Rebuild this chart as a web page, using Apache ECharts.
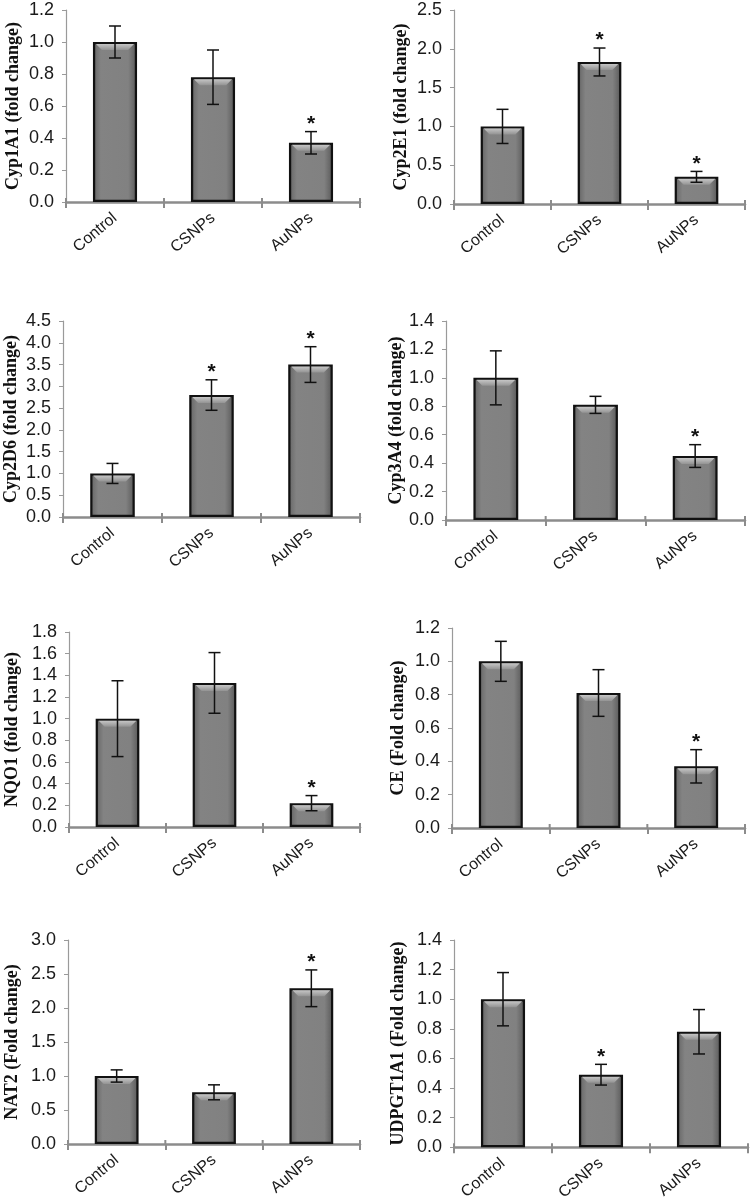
<!DOCTYPE html>
<html>
<head>
<meta charset="utf-8">
<script src="https://cdn.jsdelivr.net/npm/echarts@6/dist/echarts.min.js"></script>
<style>html,body{margin:0;padding:0;background:#fff}#c{width:751px;height:1203px}</style>
</head>
<body>
<div id="c"></div>
<script>
const categories = ['Control', 'CSNPs', 'AuNPs'];
const panelTitles = ['Cyp1A1 (fold change)', 'Cyp2E1 (fold change)', 'Cyp2D6 (fold change)', 'Cyp3A4 (fold change)',
  'NQO1 (fold change)', 'CE (Fold change)', 'NAT2 (Fold change)', 'UDPGT1A1 (Fold change)'];
const cyp1a1 = [1.0, 0.78, 0.37];   const cyp1a1Err = [0.10, 0.17, 0.07]; const cyp1a1Sig = [0, 0, 1];
const cyp2e1 = [1.0, 1.83, 0.35];   const cyp2e1Err = [0.22, 0.18, 0.07]; const cyp2e1Sig = [0, 1, 1];
const cyp2d6 = [1.0, 2.80, 3.50];   const cyp2d6Err = [0.23, 0.35, 0.41]; const cyp2d6Sig = [0, 1, 1];
const cyp3a4 = [1.0, 0.81, 0.45];   const cyp3a4Err = [0.19, 0.06, 0.08]; const cyp3a4Sig = [0, 0, 1];
const nqo1 = [1.0, 1.33, 0.22];     const nqo1Err = [0.35, 0.28, 0.07];   const nqo1Sig = [0, 0, 1];
const ce = [1.0, 0.81, 0.37];       const ceErr = [0.12, 0.14, 0.10];     const ceSig = [0, 0, 1];
const nat2 = [1.0, 0.76, 2.29];     const nat2Err = [0.09, 0.11, 0.27];   const nat2Sig = [0, 0, 1];
const udpgt1a1 = [1.0, 0.49, 0.78]; const udpgt1a1Err = [0.18, 0.07, 0.15]; const udpgt1a1Sig = [0, 1, 0];
const yMaxes = [1.2, 2.5, 4.5, 1.4, 1.8, 1.2, 3.0, 1.4];
const yIntervals = [0.2, 0.5, 0.5, 0.2, 0.2, 0.2, 0.5, 0.2];

const values = [cyp1a1, cyp2e1, cyp2d6, cyp3a4, nqo1, ce, nat2, udpgt1a1];
const errors = [cyp1a1Err, cyp2e1Err, cyp2d6Err, cyp3a4Err, nqo1Err, ceErr, nat2Err, udpgt1a1Err];
const sigs = [cyp1a1Sig, cyp2e1Sig, cyp2d6Sig, cyp3a4Sig, nqo1Sig, ceSig, nat2Sig, udpgt1a1Sig];

// layout (pixels)
const grids = [
  {left: 66, top: 10, width: 294, height: 192},
  {left: 454, top: 10, width: 291, height: 194},
  {left: 63, top: 321, width: 297, height: 196},
  {left: 446, top: 321, width: 299, height: 199},
  {left: 69, top: 632, width: 291, height: 195},
  {left: 452, top: 628, width: 293, height: 200},
  {left: 68, top: 940, width: 292, height: 204},
  {left: 454, top: 940, width: 294, height: 209}
];
const nameGaps = [44, 44, 43, 39, 48, 45, 47, 47];

const chart = echarts.init(document.getElementById('c'), null, {renderer: 'canvas'});
const option = {
  animation: false,
  backgroundColor: '#ffffff',
  grid: [], xAxis: [], yAxis: [], series: []
};

const barFill = new echarts.graphic.LinearGradient(0, 0, 1, 0, [
  {offset: 0, color: '#454545'},
  {offset: 0.07, color: '#707070'},
  {offset: 0.18, color: '#838383'},
  {offset: 0.8, color: '#818181'},
  {offset: 0.93, color: '#666666'},
  {offset: 1, color: '#3e3e3e'}
]);

for (let i = 0; i < 8; i++) {
  option.grid.push(Object.assign({containLabel: false}, grids[i]));
  option.xAxis.push({
    type: 'category', gridIndex: i, data: categories,
    axisLine: {lineStyle: {color: '#8c8c8c', width: 2.5}},
    axisTick: {show: true, length: 6, lineStyle: {color: '#8c8c8c', width: 2}},
    axisLabel: {rotate: 40, margin: 14, fontFamily: 'Liberation Sans, Arial', fontSize: 16, color: '#1a1a1a'},
    splitLine: {show: false}
  });
  option.yAxis.push({
    type: 'value', gridIndex: i, min: 0, max: yMaxes[i], interval: yIntervals[i],
    name: panelTitles[i], nameLocation: 'middle', nameGap: nameGaps[i],
    nameTextStyle: {fontFamily: 'Liberation Serif, Times New Roman', fontWeight: 'bold', fontSize: 18, color: '#111'},
    axisLine: {show: true, lineStyle: {color: '#9a9a9a', width: 1.2}},
    axisTick: {show: true, length: 4, lineStyle: {color: '#9a9a9a'}},
    axisLabel: {formatter: v => v.toFixed(1), fontFamily: 'Liberation Sans, Arial', fontSize: 18, color: '#1a1a1a', margin: 12},
    splitLine: {show: false}
  });
  option.series.push({
    type: 'bar', xAxisIndex: i, yAxisIndex: i, data: values[i], barWidth: '45%',
    itemStyle: {color: barFill, borderColor: '#111', borderWidth: 2.2}
  });
  const errData = values[i].map((v, k) => [k, v, errors[i][k], sigs[i][k]]);
  option.series.push({
    type: 'custom', xAxisIndex: i, yAxisIndex: i, data: errData, z: 5,
    renderItem: function (params, api) {
      const k = api.value(0), v = api.value(1), e = api.value(2), s = api.value(3);
      const top = api.coord([k, v]);
      const hi = api.coord([k, v + e]);
      const lo = api.coord([k, v - e]);
      const bw = api.size([1, 0])[0] * 0.45;
      const x0 = top[0] - bw / 2 + 2, x1 = top[0] + bw / 2 - 2;
      const ty = top[1];
      const base = api.coord([k, 0])[1];
      const children = [
        {type: 'polygon', shape: {points: [[x0 + 1, ty + 2], [x1 - 1, ty + 2], [x1 - 7, ty + 8], [x0 + 7, ty + 8]]},
         style: {fill: new echarts.graphic.LinearGradient(0, 0, 0, 1, [
           {offset: 0, color: '#c6c6c6'}, {offset: 1, color: '#939393'}])}},
        {type: 'line', shape: {x1: top[0], y1: hi[1], x2: top[0], y2: lo[1]}, style: {stroke: '#111', lineWidth: 1.5}},
        {type: 'line', shape: {x1: top[0] - 6, y1: hi[1], x2: top[0] + 6, y2: hi[1]}, style: {stroke: '#111', lineWidth: 1.5}},
        {type: 'line', shape: {x1: top[0] - 6, y1: lo[1], x2: top[0] + 6, y2: lo[1]}, style: {stroke: '#111', lineWidth: 1.5}}
      ];
      // x-axis tick marks cross the axis line slightly above it (category boundaries)
      const cw = api.size([1, 0])[0];
      const bl = top[0] - cw / 2;
      children.push({type: 'line', shape: {x1: bl, y1: base - 4, x2: bl, y2: base}, style: {stroke: '#8c8c8c', lineWidth: 2}});
      if (k === 2) {
        children.push({type: 'line', shape: {x1: bl + cw, y1: base - 4, x2: bl + cw, y2: base}, style: {stroke: '#8c8c8c', lineWidth: 2}});
      }
      if (s) {
        children.push({type: 'text', style: {text: '*', x: top[0], y: hi[1] + 3, align: 'center', verticalAlign: 'bottom',
          font: 'bold 21px Liberation Sans, Arial', fill: '#111'}});
      }
      return {type: 'group', children: children};
    }
  });
}
chart.setOption(option);
</script>
</body>
</html>
